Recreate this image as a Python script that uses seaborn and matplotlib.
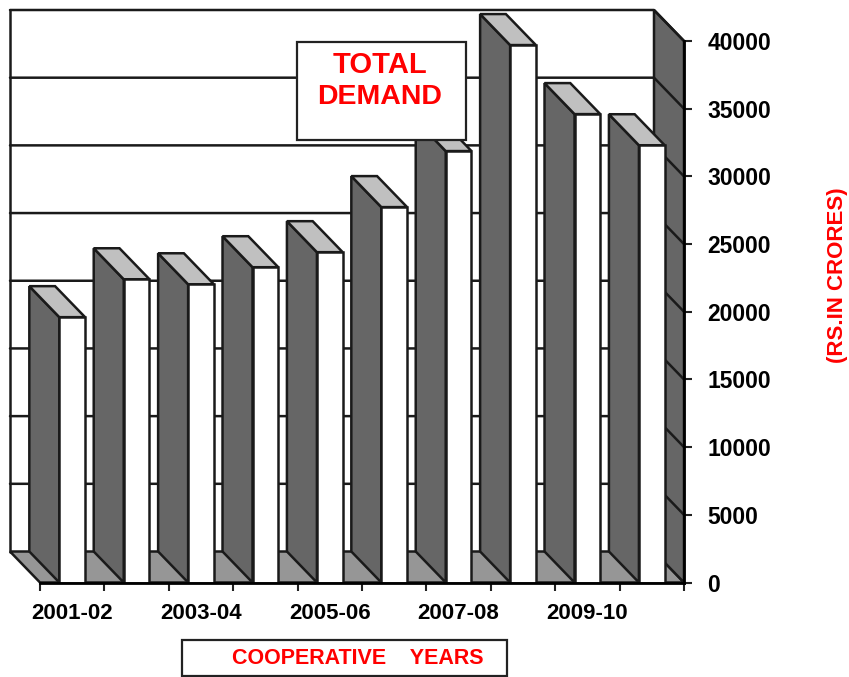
import matplotlib
matplotlib.use("Agg")
import matplotlib.pyplot as plt
from matplotlib.patches import Rectangle
import seaborn as sns
import pandas as pd

years = ["2001-02", "2002-03", "2003-04", "2004-05", "2005-06",
         "2006-07", "2007-08", "2008-09", "2009-10", "2010-11"]
demand = [19600, 22400, 22030, 23290, 24400, 27730, 31870, 39700, 34600, 32300]
yticks = [0, 5000, 10000, 15000, 20000, 25000, 30000, 35000, 40000]
shown_labels = ["2001-02", "2003-04", "2005-06", "2007-08", "2009-10"]

W, H = 849, 677
DARK, TOP, FLOOR, EDGE = "#666666", "#c0c0c0", "#969696", "#1a1a1a"

sns.set_theme(style="white")
plt.rcParams["font.family"] = ["Liberation Sans", "DejaVu Sans"]
fig = plt.figure(figsize=(W / 100, H / 100), dpi=100)
L, R, T, B = 40, 684, 41, 582.5
ax = fig.add_axes([L / W, 1 - B / H, (R - L) / W, (B - T) / H])
df = pd.DataFrame({"year": years, "demand": demand})
sns.barplot(data=df, x="year", y="demand", width=0.4, color="white",
            saturation=1, edgecolor=EDGE, linewidth=1.8, ax=ax, zorder=20)
bars = list(ax.patches)
ax.set_xlim(-0.5, 9.5)
ax.set_ylim(0, 40000)
ax.set_xlabel("")
ax.set_ylabel("")
ax.patch.set_visible(False)

dx = -30 / ((R - L) / 10)
dy = 31 * 40000 / (B - T)
x0, x1 = -0.5, 9.5
top = yticks[-1]

def poly(xs, ys, fc, z):
    ax.fill(xs, ys, facecolor=fc, edgecolor=EDGE, linewidth=1.8,
            clip_on=False, zorder=z, joinstyle="miter")

# floor and right wall
poly([x0, x1, x1 + dx, x0 + dx], [0, 0, dy, dy], FLOOR, 2)
poly([x1, x1 + dx, x1 + dx, x1], [0, dy, top + dy, top], DARK, 3)
# back wall grid
for v in yticks[1:]:
    ax.plot([x0 + dx, x1 + dx, x1], [v + dy, v + dy, v], color=EDGE, lw=1.8,
            clip_on=False, zorder=4)
ax.plot([x0 + dx, x0 + dx], [dy, top + dy], color=EDGE, lw=1.8, clip_on=False, zorder=4)

# 3-D depth of each bar
for i, p in enumerate(bars):
    a, w, h = p.get_x(), p.get_width(), p.get_height()
    z = 10 + i
    p.set_zorder(z + 0.5)
    poly([a, a + dx, a + dx, a], [0, dy, h + dy, h], DARK, z)
    poly([a, a + dx, a + w + dx, a + w], [h, h + dy, h + dy, h], TOP, z)

# axes and ticks
for s in ["top", "left"]:
    ax.spines[s].set_visible(False)
for s in ["bottom", "right"]:
    ax.spines[s].set_visible(True)
    ax.spines[s].set_color("black")
    ax.spines[s].set_linewidth(2)
    ax.spines[s].set_zorder(40)
ax.yaxis.tick_right()
ax.set_yticks(yticks)
ax.set_yticklabels([str(v) for v in yticks], fontsize=16.5, fontweight="bold", color="black")
ax.tick_params(axis="y", right=True, left=False, length=6, width=1.5, color="#222222", pad=11)
ax.set_xticks([k - 0.5 for k in range(11)])
ax.set_xticklabels([""] * 11)
ax.set_xticks([0, 2, 4, 6, 8], minor=True)
ax.set_xticklabels(shown_labels, minor=True, fontsize=16, fontweight="bold", color="black")
ax.tick_params(axis="x", which="major", bottom=True, length=6, width=1.5, color="#222222")
ax.tick_params(axis="x", which="minor", bottom=False, length=0, pad=15)

# annotation boxes
def box(x, y, w, h):
    fig.add_artist(Rectangle((x / W, 1 - (y + h) / H), w / W, h / H, transform=fig.transFigure,
                             facecolor="white", edgecolor="#222222", linewidth=1.6, zorder=50))

box(297, 42, 169, 98)
fig.text(380 / W, 1 - 65 / H, "TOTAL", color="red", fontsize=21, fontweight="bold",
         ha="center", va="center", zorder=51)
fig.text(380 / W, 1 - 97 / H, "DEMAND", color="red", fontsize=20.5, fontweight="bold",
         ha="center", va="center", zorder=51)
box(182, 640, 325, 36)
fig.text(358 / W, 1 - 659 / H, "COOPERATIVE    YEARS", color="red", fontsize=15.5,
         fontweight="bold", ha="center", va="center", zorder=51)
fig.text(838 / W, 1 - 275 / H, "(RS.IN CRORES)", color="red", fontsize=16, fontweight="bold",
         rotation=90, ha="center", va="center", zorder=51)

fig.savefig("out.png", dpi=100, facecolor="white")
